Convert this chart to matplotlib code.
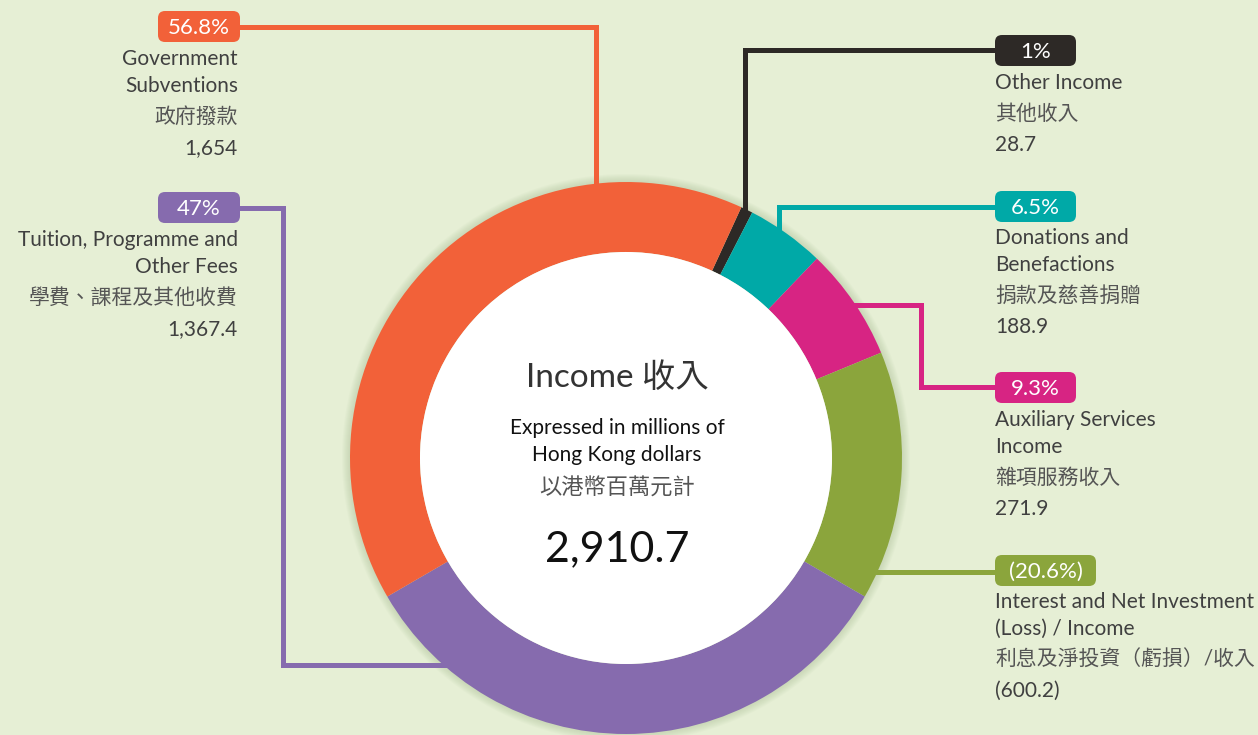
import matplotlib.pyplot as plt
import numpy as np
from matplotlib.patches import FancyBboxPatch, Circle

# Income breakdown, in millions of HKD (clockwise order starting just right of top)
names_en = ["Other Income", "Donations and\nBenefactions", "Auxiliary Services\nIncome",
            "Interest and Net Investment\n(Loss) / Income", "Tuition, Programme and\nOther Fees",
            "Government\nSubventions"]
names_zh = ["其他收入", "捐款及慈善捐贈", "雜項服務收入", "利息及淨投資（虧損）/收入",
            "學費、課程及其他收費", "政府撥款"]
amounts = [28.7, 188.9, 271.9, -600.2, 1367.4, 1654.0]
amount_labels = ["28.7", "188.9", "271.9", "(600.2)", "1,367.4", "1,654"]
pct_labels = ["1%", "6.5%", "9.3%", "(20.6%)", "47%", "56.8%"]
total_label = "2,910.7"

colors = ["#2d2926", "#00a9a7", "#d72483", "#8ba53c", "#866bae", "#f26139"]
bg = "#e6efd5"

W, H = 1258, 735
fig = plt.figure(figsize=(W / 100, H / 100), dpi=100)
fig.patch.set_facecolor(bg)
ax = fig.add_axes([0, 0, 1, 1])
ax.set_facecolor(bg)

def Y(y):
    # picture rows -> data y
    return H - y

cx, cy, R, r = 626, Y(458), 276, 206

fams = ["Lato", "Noto Sans CJK TC", "DejaVu Sans"]
lw = 3.6

# soft halo round the ring
for k in range(8, 0, -1):
    ax.add_patch(Circle((cx, cy), R + k, color="#a9bd92", alpha=0.06, lw=0, zorder=1))

ax.pie(np.abs(amounts), colors=colors, startangle=65.3, counterclock=False,
       radius=R, center=(cx, cy),
       wedgeprops=dict(width=R - r, linewidth=0, zorder=3))
ax.add_patch(Circle((cx, cy), r, color="white", lw=0, zorder=4))

# leader lines (picture coordinates)
leaders = [
    [(1000, 50), (745, 50), (745, 215)],
    [(1000, 207), (779, 207), (779, 230)],
    [(1000, 387), (921, 387), (921, 305), (850, 305)],
    [(1000, 572), (870, 572)],
    [(200, 208), (283, 208), (283, 665), (450, 665)],
    [(200, 27), (596, 27), (596, 190)],
]
for pts, c in zip(leaders, colors):
    xs = [p[0] for p in pts]
    ys = [Y(p[1]) for p in pts]
    ax.plot(xs, ys, color=c, lw=lw, solid_joinstyle="miter", zorder=2)

# percentage boxes and labels
box_pos = [(995, 35, 81), (995, 191, 81), (995, 372, 81), (995, 555, 101), (158, 192, 82), (158, 11, 82)]
text_top = [83, 238, 420, 602, 240, 59]
for i, (bx, by, bw) in enumerate(box_pos):
    bh = 31
    ax.add_patch(FancyBboxPatch((bx, Y(by + bh)), bw, bh,
                                boxstyle="round,pad=0,rounding_size=7",
                                fc=colors[i], ec="none", zorder=5))
    ax.text(bx + bw / 2, Y(by + bh / 2 + 1), pct_labels[i], color="white", fontsize=16,
            ha="center", va="center", family=fams, zorder=6)

    left = bx < 500
    tx = 238 if left else 995
    ha = "right" if left else "left"
    y = text_top[i]
    for line in names_en[i].split("\n"):
        ax.text(tx, Y(y), line, fontsize=15, color="#404040", ha=ha, va="center", family=fams)
        y += 27
    y += 4
    ax.text(tx, Y(y), names_zh[i], fontsize=15, color="#555555", ha=ha, va="center", family=fams)
    y += 31
    ax.text(tx, Y(y), amount_labels[i], fontsize=15, color="#404040", ha=ha, va="center", family=fams)

# centre text
ax.text(617, Y(378), "Income 收入", fontsize=24, color="#333333", ha="center", va="center",
        family=fams, zorder=6)
ax.text(617, Y(428), "Expressed in millions of", fontsize=15, color="#111111",
        ha="center", va="center", family=fams, zorder=6)
ax.text(617, Y(455), "Hong Kong dollars", fontsize=15, color="#111111",
        ha="center", va="center", family=fams, zorder=6)
ax.text(617, Y(488), "以港幣百萬元計", fontsize=16, color="#555555",
        ha="center", va="center", family=fams, zorder=6)
ax.text(617, Y(549), total_label, fontsize=31, color="#111111",
        ha="center", va="center", family=fams, zorder=6)

ax.set_xlim(0, W)
ax.set_ylim(0, H)
ax.set_aspect("equal")
ax.axis("off")

fig.savefig("out.png", dpi=100, facecolor=bg)
